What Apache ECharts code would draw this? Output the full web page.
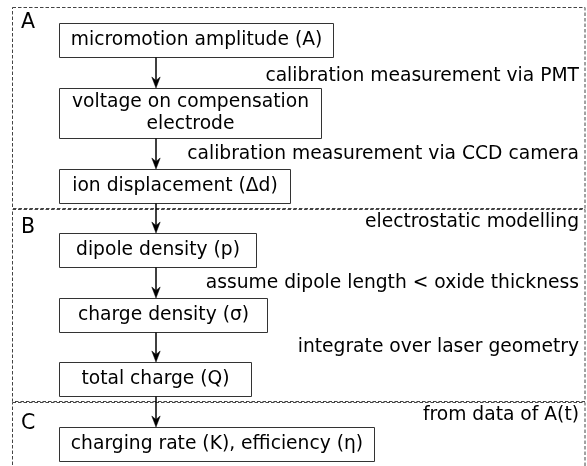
<!DOCTYPE html>
<html>
<head>
<meta charset="utf-8">
<script src="https://cdn.jsdelivr.net/npm/echarts@6/dist/echarts.min.js"></script>
<style>html,body{margin:0;padding:0;background:#fff}#c{width:587px;height:466px}</style>
</head>
<body>
<div id="c"></div>
<script>
// ---- content ----
var sectionLetters = ['A', 'B', 'C'];
var boxLabels = [
  'micromotion amplitude (A)',
  'voltage on compensation\nelectrode',
  'ion displacement (\u0394d)',
  'dipole density (p)',
  'charge density (\u03c3)',
  'total charge (Q)',
  'charging rate (K), efficiency (\u03b7)'
];
var stepNotes = [
  'calibration measurement via PMT',
  'calibration measurement via CCD camera',
  'electrostatic modelling',
  'assume dipole length < oxide thickness',
  'integrate over laser geometry',
  'from data of A(t)'
];

// ---- layout (pixels) ----
var FONT = 'DejaVu Sans';
var sectionRects = [[12.5, 7.5, 585, 208.5], [12.5, 209.5, 585, 401.5], [12.5, 402.5, 585, 480]];
var letterPos = [[21, 23], [21, 228], [21, 424]];
var boxGeom = [ // left, top, right, bottom
  [59.5, 23.5, 333.5, 57.5],
  [59.5, 88.5, 321.5, 138.5],
  [59.5, 169.5, 290.5, 203.5],
  [59.5, 233.5, 256.5, 267.5],
  [59.5, 298.5, 267.5, 332.5],
  [59.5, 362.5, 251.5, 396.5],
  [59.5, 427.5, 374.5, 461.5]
];
var noteY = [76, 154, 222, 283, 347, 415];
var noteRight = 579;
var arrowX = 156;

var g = [];
sectionRects.forEach(function (r) {
  g.push({type: 'rect', shape: {x: r[0], y: r[1], width: r[2] - r[0], height: r[3] - r[1]},
    style: {fill: 'none', stroke: '#444', lineWidth: 1, lineDash: [3.5, 2]}, silent: true});
});
sectionLetters.forEach(function (t, i) {
  g.push({type: 'text', x: letterPos[i][0], y: letterPos[i][1],
    style: {text: t, font: '20.5px "' + FONT + '"', fill: '#000', textAlign: 'left', textVerticalAlign: 'middle'}});
});
boxLabels.forEach(function (t, i) {
  var b = boxGeom[i];
  g.push({type: 'rect', shape: {x: b[0], y: b[1], width: b[2] - b[0], height: b[3] - b[1]},
    style: {fill: '#fff', stroke: '#333', lineWidth: 1}});
  g.push({type: 'text', x: (b[0] + b[2]) / 2, y: (b[1] + b[3]) / 2,
    style: {text: t, font: '18.7px "' + FONT + '"', fill: '#000', textAlign: 'center', textVerticalAlign: 'middle', lineHeight: 22}});
});
for (var i = 0; i < boxLabels.length - 1; i++) {
  var y0 = boxGeom[i][3], y1 = boxGeom[i + 1][1] - 0.5;
  g.push({type: 'line', shape: {x1: arrowX, y1: y0, x2: arrowX, y2: y1 - 6},
    style: {stroke: '#000', lineWidth: 1.5}});
  g.push({type: 'polygon', shape: {points: [[arrowX, y1], [arrowX - 4.2, y1 - 11], [arrowX, y1 - 7.5], [arrowX + 4.2, y1 - 11]]},
    style: {fill: '#000', stroke: '#000', lineWidth: 0.5}});
}
stepNotes.forEach(function (t, i) {
  g.push({type: 'text', x: noteRight, y: noteY[i],
    style: {text: t, font: '18.7px "' + FONT + '"', fill: '#000', textAlign: 'right', textVerticalAlign: 'middle'}});
});

var chart = echarts.init(document.getElementById('c'), null, {renderer: 'canvas'});
chart.setOption({backgroundColor: '#fff', animation: false, graphic: {elements: g}});
</script>
</body>
</html>
